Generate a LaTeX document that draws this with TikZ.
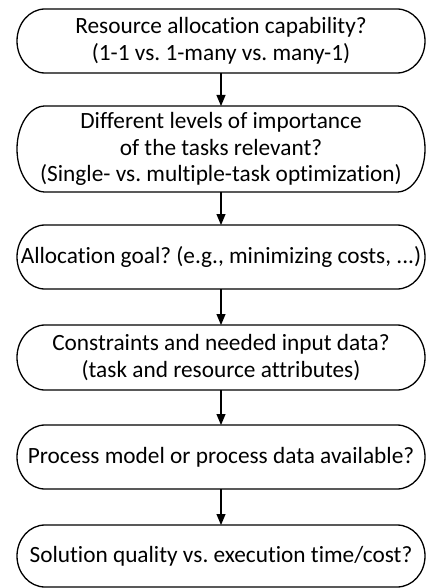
\documentclass[tikz,border=0pt]{standalone}
\usepackage{fontspec}
\setmainfont{Carlito}[Ligatures=NoCommon]
\usetikzlibrary{arrows.meta}
\usetikzlibrary{calc}
\frenchspacing

\begin{document}
\begin{tikzpicture}[x=1pt, y=1pt, line width=1.3pt,
        box_style/.style={rectangle, outer sep=0pt, inner sep=2pt, minimum width=408pt, align=center, font=\fontsize{23.3}{26.5}\selectfont},
        edge_style/.style={draw=black, line width=1.1pt, -{Triangle[length=11pt,width=9pt]}}]

        \useasboundingbox (0,0) rectangle (425,-588);

        \node [box_style, minimum height=64pt](q1) at (221,-41) {Resource allocation capability?\\(1-1 vs. 1-many vs. many-1)};

        \node [box_style, minimum height=86pt](q2) at (221,-149) {Different levels of importance\\of the tasks relevant?\\(Single- vs. multiple-task optimization)};

        \node [box_style, minimum height=64pt](q3) at (221,-257) {Allocation goal? (e.g., minimizing costs, ...)};

        \node [box_style, minimum height=65pt](q4) at (221,-357.5) {Constraints and needed input data?\\(task and resource attributes)};

        \node [box_style, minimum height=64pt](q5) at (221,-457) {Process model or process data available?};

        \node [box_style, minimum height=62pt](q6) at (221,-556) {Solution quality vs. execution time/cost?};

        % terminator outlines round each question
        \foreach \q in {q1,q2,q3,q4,q5,q6}
            \draw let \p1=(\q.north east), \p2=(\q.south west), \n1={(\y1-\y2)/2} in
                (\x2+28pt,\y1) -- (\x1-28pt,\y1)
                arc[start angle=90, end angle=-90, x radius=28pt, y radius=\n1]
                -- (\x2+28pt,\y2)
                arc[start angle=270, end angle=90, x radius=28pt, y radius=\n1] -- cycle;

        \draw [edge_style] (q1) -- (q2);

        \draw [edge_style] (q2) -- (q3);

        \draw [edge_style] (q3) -- (q4);

        \draw [edge_style] (q4) -- (q5);

        \draw [edge_style] (q5) -- (q6);

        \end{tikzpicture}
\end{document}
